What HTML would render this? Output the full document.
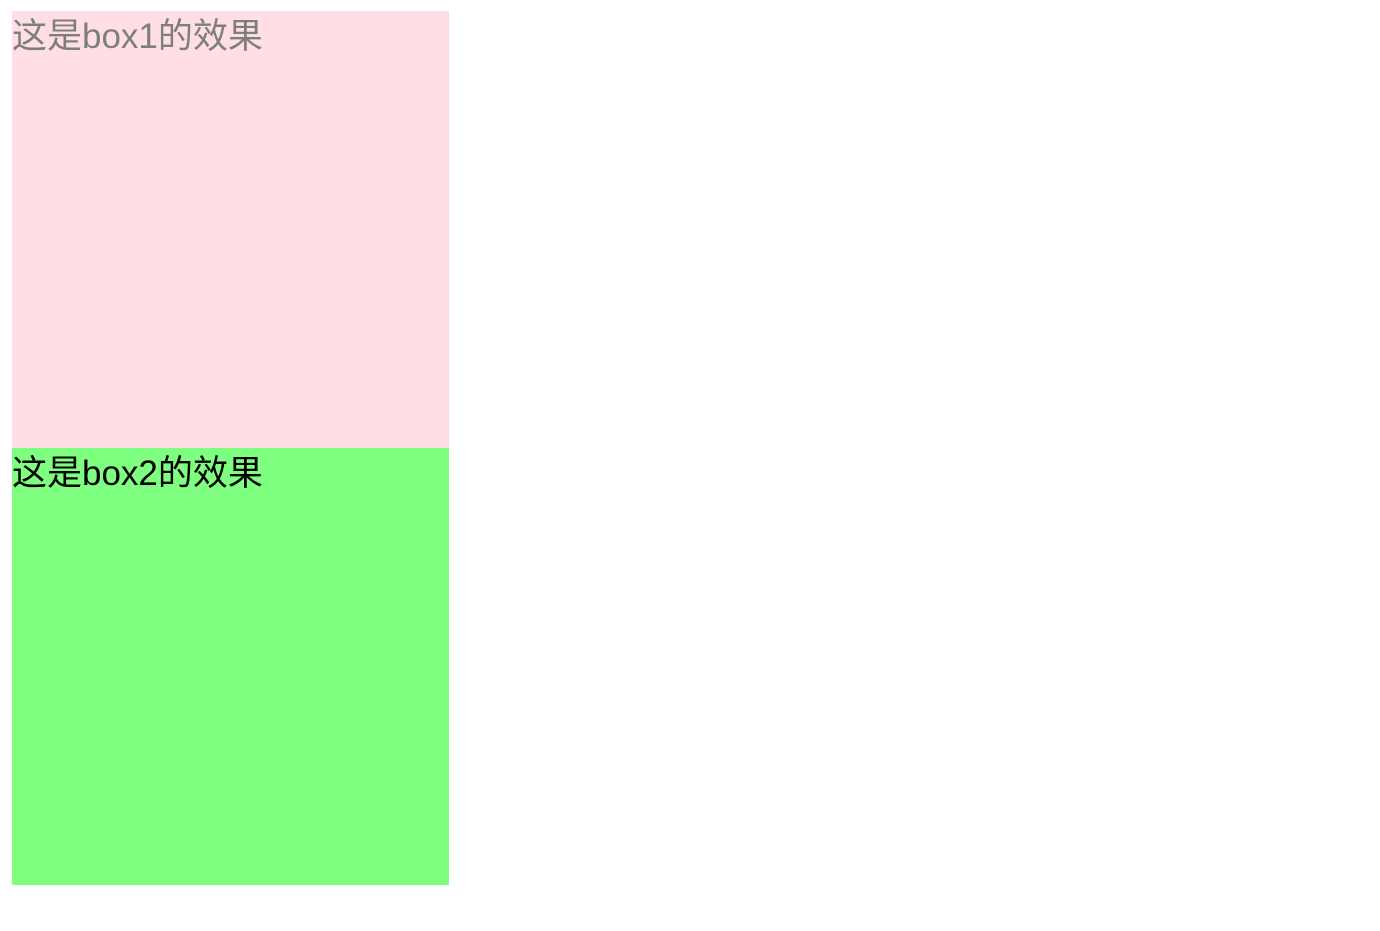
<!DOCTYPE html>
<html>
<head>
<meta charset="utf-8">
<style>
  html, body { margin: 0; padding: 0; background: #fff; width: 1380px; height: 931px; overflow: hidden; }
  .box {
    position: absolute;
    left: 12px;
    width: 437px;
    height: 437px;
    font-family: "Liberation Sans", "Noto Sans CJK SC", sans-serif;
    font-size: 35px;
    line-height: 52px;
  }
  #box1 { top: 11px; background: #ffc0cb; color: #000; opacity: 0.5; }
  #box2 { top: 448px; height: 437px; background: rgba(0,255,0,0.5); color: #000; }
</style>
</head>
<body>
  <div id="box1" class="box"><span>这是box1的效果</span></div>
  <div id="box2" class="box"><span>这是box2的效果</span></div>
</body>
</html>
